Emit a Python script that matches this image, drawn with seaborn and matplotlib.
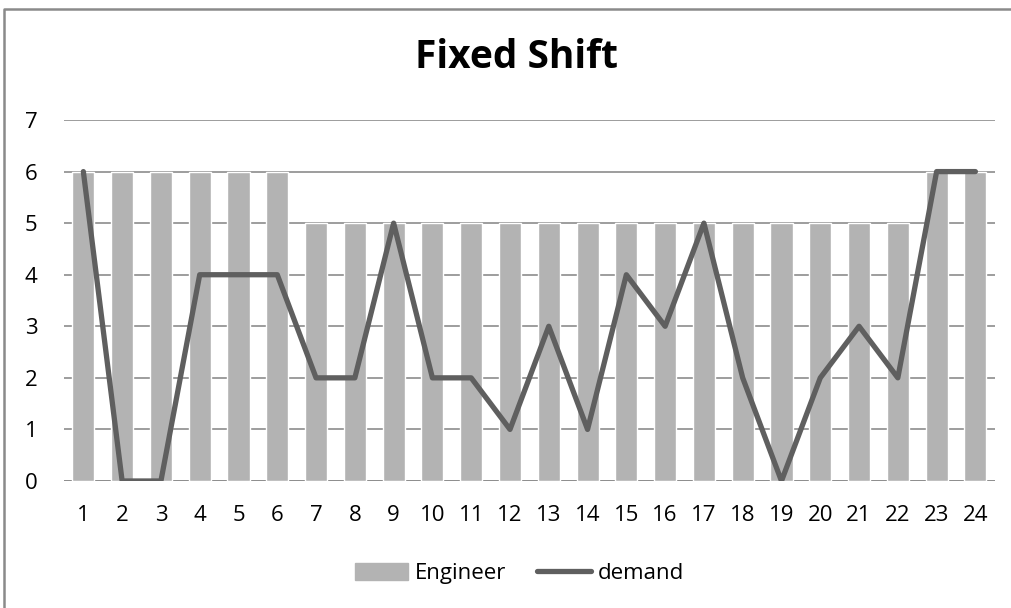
import numpy as np
import pandas as pd
import matplotlib
matplotlib.use("Agg")
import matplotlib.pyplot as plt
import seaborn as sns
from matplotlib.patches import Rectangle
from matplotlib.lines import Line2D

hours = [str(h) for h in range(1, 25)]
engineer = [6, 6, 6, 6, 6, 6, 5, 5, 5, 5, 5, 5, 5, 5, 5, 5, 5, 5, 5, 5, 5, 5, 6, 6]
demand = [6, 0, 0, 4, 4, 4, 2, 2, 5, 2, 2, 1, 3, 1, 4, 3, 5, 2, 0, 2, 3, 2, 6, 6]
y_ticks = list(range(0, 8))

BAR = "#B3B3B3"
LINE = "#5F5F5F"
GRID = "#8C8C8C"

sns.set_theme(style="white")
plt.rcParams["font.family"] = ["Open Sans", "DejaVu Sans"]
plt.rcParams["text.color"] = "black"

df = pd.DataFrame({"hour": hours, "Engineer": engineer, "demand": demand})
df["pos"] = np.arange(len(df))

fig = plt.figure(figsize=(10.12, 6.08), dpi=100)
fig.patch.set_edgecolor("none")
fig.patch.set_linewidth(0)
ax = fig.add_axes([0.0632, 0.2089, 0.9198, 0.5937])

sns.barplot(data=df, x="hour", y="Engineer", color=BAR, width=0.57,
            saturation=1, ax=ax, zorder=2)
sns.lineplot(data=df, x="pos", y="demand", color=LINE, lw=3.8, ax=ax,
             zorder=3, solid_capstyle="round")

ax.set_ylim(0, 7)
ax.set_xlim(-0.5, 23.5)
ax.set_yticks(y_ticks)
ax.yaxis.grid(True, color=GRID, lw=1.2, zorder=1)
ax.set_axisbelow(True)
for s in ax.spines.values():
    s.set_visible(False)
ax.axhline(0, color=GRID, lw=1.2, zorder=1)
ax.set_xlabel("")
ax.set_ylabel("")
ax.tick_params(axis="both", length=0, labelsize=16, colors="black")
ax.tick_params(axis="x", pad=17)
ax.tick_params(axis="y", pad=19)

fig.text(0.51, 0.905, "Fixed Shift", ha="center", va="center",
         fontsize=28, fontweight="bold", color="black")

# chart frame: only the left and top edges are inside the picture
fig.add_artist(Line2D([0.004, 0.004, 1.02], [0.0, 0.986, 0.986], transform=fig.transFigure,
                      color="#8A8A8A", lw=1.8))

handles = [Rectangle((0, 0), 1, 1, color=BAR),
           Line2D([0], [0], color=LINE, lw=3.8, solid_capstyle="round")]
fig.legend(handles, ["Engineer", "demand"], loc="center", bbox_to_anchor=(0.513, 0.057),
           ncol=2, frameon=False, fontsize=16, handlelength=2.4, handleheight=0.8,
           handletextpad=0.3, columnspacing=1.4)

fig.savefig("out.png", dpi=100)
